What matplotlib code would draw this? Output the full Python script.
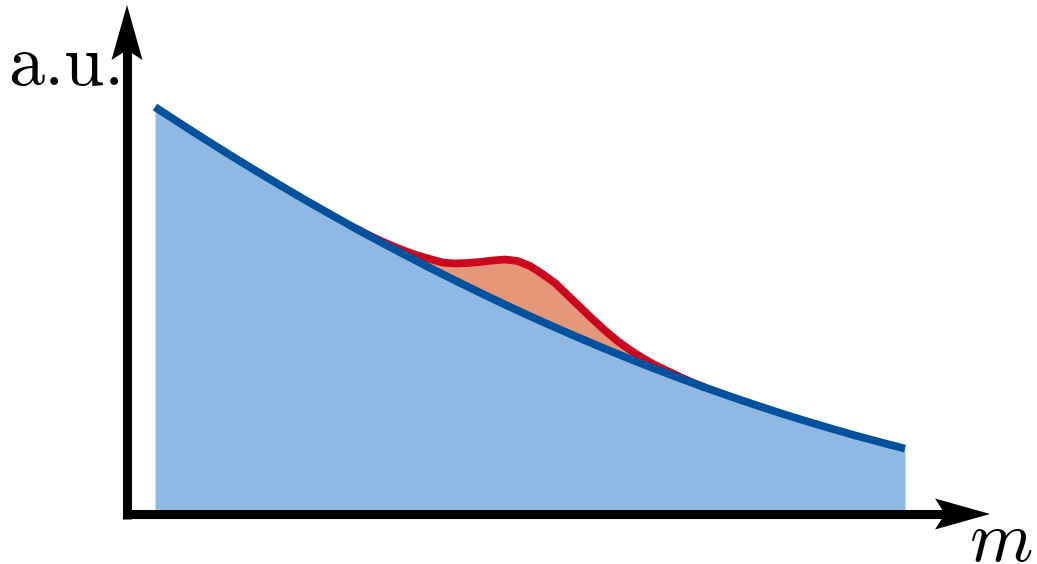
import numpy as np
import matplotlib.pyplot as plt
from matplotlib.patches import Polygon

# mass axis (arbitrary units)
m = np.arange(0.25, 7.76, 0.25)

# smooth falling background
background = [4.07, 3.907, 3.747, 3.590, 3.437, 3.288, 3.141, 2.999, 2.859,
              2.723, 2.591, 2.461, 2.336, 2.213, 2.094, 1.978, 1.866, 1.758,
              1.652, 1.550, 1.452, 1.357, 1.265, 1.177, 1.092, 1.010, 0.932,
              0.858, 0.786, 0.719, 0.654]

# background + resonance bump, on a finer grid where it sits above the background
signal_m = np.arange(2.25, 5.751, 0.125)
signal = [2.859, 2.795, 2.735, 2.68, 2.63, 2.585, 2.55, 2.515, 2.505, 2.51,
          2.52, 2.535, 2.545, 2.53, 2.48, 2.40, 2.31, 2.19, 2.07, 1.95,
          1.835, 1.73, 1.64, 1.56, 1.49, 1.43, 1.37, 1.315, 1.265]

light_blue = '#8FB9E3'
dark_blue = '#00519E'
red = '#CC061E'
salmon = '#E5977A'


def arrow_head(ax, tip, direction, length=0.55, half_width=0.155, notch=0.10):
    """Filled latex-style arrow head at tip, pointing along direction."""
    d = np.array(direction, float)
    n = np.array([-d[1], d[0]])
    tip = np.array(tip, float)
    back = tip - length * d
    pts = [tip, back + half_width * n, back + notch * d, back - half_width * n]
    ax.add_patch(Polygon(pts, closed=True, color='black', lw=0, zorder=6))


fig = plt.figure(figsize=(10.37, 5.64), dpi=100)
ax = fig.add_axes([0, 0, 1, 1])
ax.set_xlim(-1.30, 9.07)
ax.set_ylim(-0.50, 5.14)
ax.axis('off')

bg = np.array(background)
ax.fill_between(m, 0, bg, color=light_blue, lw=0, zorder=1)

# region between bump and background
inside = (m >= signal_m[0] - 1e-9) & (m <= signal_m[-1] + 1e-9)
poly_x = np.r_[signal_m, m[inside][::-1]]
poly_y = np.r_[signal, bg[inside][::-1]]
ax.fill(poly_x, poly_y, color=salmon, lw=0, zorder=2)

ax.plot(signal_m, signal, color=red, lw=5.6, solid_capstyle='butt',
        solid_joinstyle='round', zorder=3)
ax.plot(m, background, color=dark_blue, lw=5.6, solid_capstyle='butt',
        solid_joinstyle='round', zorder=4)

# axes with arrows
ax.plot([-0.03, -0.03], [-0.045, 4.70], color='black', lw=6.5,
        solid_capstyle='butt', zorder=5)
ax.plot([-0.075, 8.30], [0.0, 0.0], color='black', lw=6.5,
        solid_capstyle='butt', zorder=5)
arrow_head(ax, (-0.03, 5.09), (0, 1))
arrow_head(ax, (8.60, 0.0), (1, 0))

ax.text(-0.06, 4.29, 'a.u.', family='cmr10', fontsize=52,
        ha='right', va='baseline')
ax.text(9.035, -0.465, 'm', family='cmmi10', fontsize=52,
        ha='right', va='baseline')

fig.savefig('out.png', dpi=100)
